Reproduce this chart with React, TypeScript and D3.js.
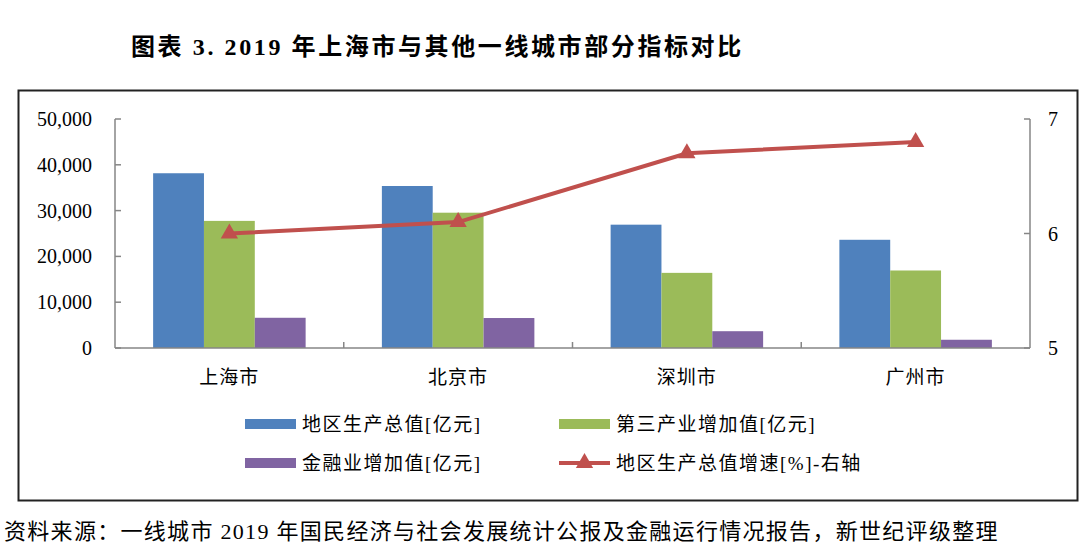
import React from "react";
import * as d3 from "d3";

const title = "图表 3. 2019 年上海市与其他一线城市部分指标对比";
const source = "资料来源：一线城市 2019 年国民经济与社会发展统计公报及金融运行情况报告，新世纪评级整理";
const categories = ["上海市", "北京市", "深圳市", "广州市"];
const gdp = [38155, 35371, 26927, 23628];
const tertiary = [27752, 29542, 16406, 16923];
const finance = [6600, 6545, 3667, 1800];
const growth = [6.0, 6.1, 6.7, 6.8];
const leftTicks = [0, 10000, 20000, 30000, 40000, 50000];
const rightTicks = [5, 6, 7];
const seriesNames = ["地区生产总值[亿元]", "第三产业增加值[亿元]", "金融业增加值[亿元]", "地区生产总值增速[%]-右轴"];
const colors = ["#4F81BD", "#9BBB59", "#8064A2", "#C0504D"];

const W = 1080, H = 555;
const plot = { left: 115, right: 1030, top: 119, bottom: 348 };
const serif = "'Liberation Serif', 'Times New Roman', 'Noto Sans CJK SC', serif";
const axisColor = "#868686";

export default function App() {
  const x = d3.scaleBand<string>().domain(categories).range([plot.left, plot.right]).paddingInner(0).paddingOuter(0);
  const groupW = x.bandwidth() / (3 + 1.5) * 3;
  const sub = d3.scaleBand<number>().domain([0, 1, 2]).range([0, groupW]).padding(0);
  const yL = d3.scaleLinear().domain([0, 50000]).range([plot.bottom, plot.top]);
  const yR = d3.scaleLinear().domain([5, 7]).range([plot.bottom, plot.top]);
  const fmt = d3.format(",");
  const barSeries = [gdp, tertiary, finance];
  const cx = (c: string) => (x(c) as number) + x.bandwidth() / 2;
  const line = d3.line<number>().x((_, i) => cx(categories[i])).y((v) => yR(v));
  const tri = d3.symbol().type(d3.symbolTriangle).size(130);

  const legendItems = [
    { x: 245, y: 424, i: 0 },
    { x: 559, y: 424, i: 1 },
    { x: 245, y: 463, i: 2 },
    { x: 559, y: 463, i: 3 },
  ];

  return (
    <svg width={W} height={H} style={{ position: "absolute", left: 0, top: 0, background: "#fff" }}>
      <rect x={0} y={0} width={W} height={H} fill="#fff" />
      <text x={131} y={47} dominantBaseline="central" fontFamily={serif} fontWeight="bold" fontSize={24} letterSpacing={2.6} fill="#000">
        {title}
      </text>
      <rect x={18.5} y={90.5} width={1059} height={410} fill="#fff" stroke="#222" strokeWidth={2} />

      {barSeries.map((vals, s) =>
        categories.map((c, i) => {
          const bx = (x(c) as number) + (x.bandwidth() - groupW) / 2 + (sub(s) as number);
          return (
            <rect key={`${s}-${i}`} x={bx} y={yL(vals[i])} width={sub.bandwidth()} height={plot.bottom - yL(vals[i])} fill={colors[s]} />
          );
        })
      )}

      {/* left axis */}
      <line x1={plot.left} x2={plot.left} y1={plot.top} y2={plot.bottom} stroke={axisColor} strokeWidth={1.5} />
      {leftTicks.map((t) => (
        <g key={t}>
          <line x1={plot.left} x2={plot.left + 6} y1={yL(t)} y2={yL(t)} stroke={axisColor} strokeWidth={1.5} />
          <text x={92} y={yL(t)} textAnchor="end" dominantBaseline="central" fontFamily={serif} fontSize={20} fill="#000">
            {fmt(t)}
          </text>
        </g>
      ))}
      {/* right axis */}
      <line x1={plot.right} x2={plot.right} y1={plot.top} y2={plot.bottom} stroke={axisColor} strokeWidth={1.5} />
      {rightTicks.map((t) => (
        <g key={t}>
          <line x1={plot.right - 6} x2={plot.right} y1={yR(t)} y2={yR(t)} stroke={axisColor} strokeWidth={1.5} />
          <text x={1053} y={yR(t)} textAnchor="middle" dominantBaseline="central" fontFamily={serif} fontSize={20} fill="#000">
            {t}
          </text>
        </g>
      ))}
      {/* x axis */}
      <line x1={plot.left} x2={plot.right} y1={plot.bottom} y2={plot.bottom} stroke={axisColor} strokeWidth={1.5} />
      {categories.slice(1).map((c) => (
        <line key={c} x1={x(c) as number} x2={x(c) as number} y1={plot.bottom - 6} y2={plot.bottom} stroke={axisColor} strokeWidth={1.5} />
      ))}
      {categories.map((c) => (
        <text key={c} x={cx(c)} y={377} textAnchor="middle" dominantBaseline="central" fontFamily={serif} fontSize={19} letterSpacing={1} fill="#000">
          {c}
        </text>
      ))}

      {/* growth line */}
      <path d={line(growth) || ""} fill="none" stroke={colors[3]} strokeWidth={4} />
      {growth.map((v, i) => (
        <path key={i} d={tri() || ""} transform={`translate(${cx(categories[i])},${yR(v)})`} fill={colors[3]} />
      ))}

      {/* legend */}
      {legendItems.map((it) => (
        <g key={it.i}>
          {it.i < 3 ? (
            <rect x={it.x} y={it.y - 5} width={51} height={10} fill={colors[it.i]} />
          ) : (
            <g>
              <line x1={it.x} x2={it.x + 51} y1={it.y} y2={it.y} stroke={colors[3]} strokeWidth={4} />
              <path d={tri() || ""} transform={`translate(${it.x + 25.5},${it.y})`} fill={colors[3]} />
            </g>
          )}
          <text x={it.x + 57} y={it.y} dominantBaseline="central" fontFamily={serif} fontSize={19} letterSpacing={1.5} fill="#000">
            {seriesNames[it.i]}
          </text>
        </g>
      ))}

      <text x={4} y={531} dominantBaseline="central" fontFamily={serif} fontSize={22} letterSpacing={1.3} fill="#000">
        {source}
      </text>
    </svg>
  );
}
